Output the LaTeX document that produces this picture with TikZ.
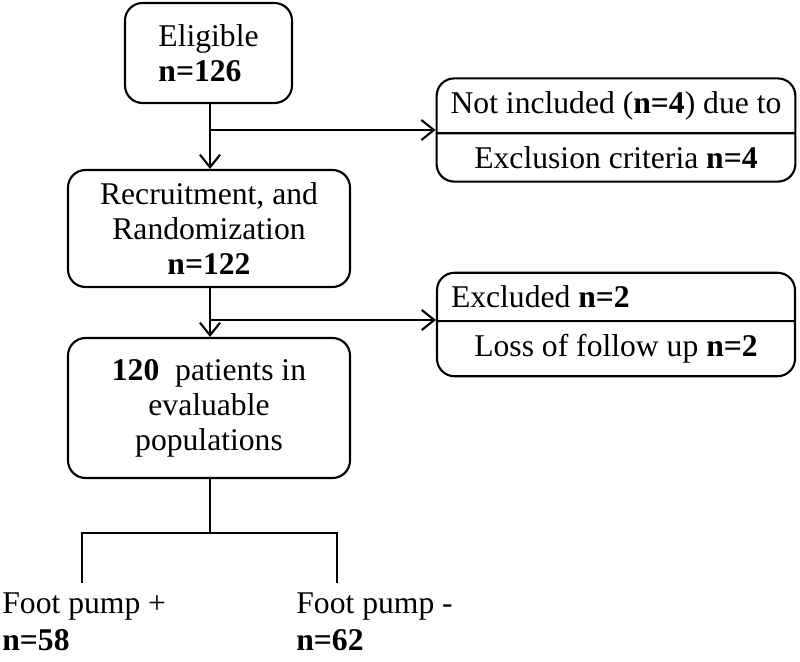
\documentclass[tikz,border=0pt]{standalone}
\usepackage{fontspec}
\setmainfont{Liberation Serif}
\usepackage{tikz}
\usetikzlibrary{arrows.meta, shapes.multipart}

\begin{document}
\begin{tikzpicture}[
  box/.style={draw, rounded corners=0.35cm, line width=1.2pt, align=center,
    font=\fontsize{18}{20}\selectfont},
  splitbox/.style={draw, rounded corners=0.35cm, line width=1.2pt,
    rectangle split, rectangle split parts=2,
    rectangle split part align={left, center},
    minimum width=7.16cm, inner ysep=0.24cm, inner xsep=0.28cm,
    font=\fontsize{18}{20}\selectfont},
  line/.style={line width=1.2pt},
  arr/.style={line width=1.2pt, -{Straight Barb[length=2.5mm, width=4mm]}},
  lbl/.style={anchor=north west, align=left, inner sep=0pt,
    font=\fontsize{18}{21}\selectfont}
]
\useasboundingbox (0,0) rectangle (16,-13.22);

\node[box, minimum width=3.34cm, minimum height=2cm, align=left] (1) at (4.17,-1.06) {Eligible\\\textbf{n=126}};
\node[box, minimum width=5.64cm, minimum height=2.34cm] (2) at (4.18,-4.57) {Recruitment, and\\Randomization\\\textbf{n=122}};
\node[box, minimum width=5.64cm, minimum height=2.8cm] (3) at (4.18,-8.16) {\textbf{120}~ patients in\\evaluable\\populations};
\node[splitbox] (4) at (12.32,-2.6) {Not included (\textbf{n=4}) due to\nodepart{two}Exclusion criteria \textbf{n=4}};
\node[splitbox] (5) at (12.32,-6.49) {Excluded \textbf{n=2}\nodepart{two}Loss of follow up \textbf{n=2}};

\coordinate (a) at (4.2,-2.6);
\coordinate (b) at (4.2,-6.4);
\coordinate (c) at (4.2,-10.66);
\coordinate (c1) at (1.64,-10.66);
\coordinate (c2) at (6.74,-10.66);
\coordinate (d1) at (1.64,-11.66);
\coordinate (d2) at (6.74,-11.66);

\node[lbl] (6) at (0.04,-11.85) {Foot pump +\\\textbf{n=58}};
\node[lbl] (7) at (5.92,-11.85) {Foot pump -\\\textbf{n=62}};

\draw[arr] (1.south -| a) -- (2.north -| a);
\draw[arr] (a) -- (a -| 4.west);
\draw[arr] (2.south -| b) -- (3.north -| b);
\draw[arr] (b) -- (b -| 5.west);
\draw[line] (3.south -| c) -- (c);
\draw[line] (d1) -- (c1) -- (c2) -- (d2);
\end{tikzpicture}
\end{document}
